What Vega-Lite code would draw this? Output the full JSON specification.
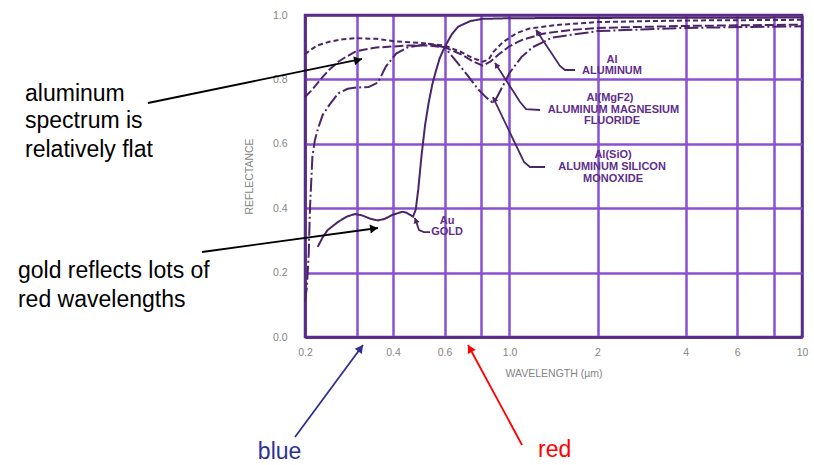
{
  "$schema": "https://vega.github.io/schema/vega-lite/v6.json",
  "width": 497,
  "height": 322,
  "autosize": {"type": "none"},
  "padding": {"left": 305, "top": 15, "right": 12, "bottom": 128},
  "background": "white",
  "config": {"view": {"stroke": "#5a2d8a", "strokeWidth": 2.5}, "font": "Liberation Sans"},
  "datasets": {
    "curves": [
      {"s": "Au", "wl": 0.221, "r": 0.28}, {"s": "Au", "wl": 0.23, "r": 0.31}, {"s": "Au", "wl": 0.239, "r": 0.332},
      {"s": "Au", "wl": 0.259, "r": 0.357}, {"s": "Au", "wl": 0.278, "r": 0.374}, {"s": "Au", "wl": 0.297, "r": 0.382},
      {"s": "Au", "wl": 0.315, "r": 0.377}, {"s": "Au", "wl": 0.335, "r": 0.367}, {"s": "Au", "wl": 0.355, "r": 0.362},
      {"s": "Au", "wl": 0.375, "r": 0.367}, {"s": "Au", "wl": 0.4, "r": 0.38}, {"s": "Au", "wl": 0.43, "r": 0.389},
      {"s": "Au", "wl": 0.445, "r": 0.386}, {"s": "Au", "wl": 0.458, "r": 0.379}, {"s": "Au", "wl": 0.468, "r": 0.374},
      {"s": "Au", "wl": 0.478, "r": 0.395}, {"s": "Au", "wl": 0.488, "r": 0.46}, {"s": "Au", "wl": 0.5, "r": 0.56},
      {"s": "Au", "wl": 0.515, "r": 0.66}, {"s": "Au", "wl": 0.53, "r": 0.73}, {"s": "Au", "wl": 0.545, "r": 0.785},
      {"s": "Au", "wl": 0.56, "r": 0.825}, {"s": "Au", "wl": 0.577, "r": 0.865}, {"s": "Au", "wl": 0.6, "r": 0.9},
      {"s": "Au", "wl": 0.635, "r": 0.94}, {"s": "Au", "wl": 0.668, "r": 0.964}, {"s": "Au", "wl": 0.734, "r": 0.981},
      {"s": "Au", "wl": 0.81, "r": 0.988}, {"s": "Au", "wl": 1.0, "r": 0.99}, {"s": "Au", "wl": 2, "r": 0.991},
      {"s": "Au", "wl": 10, "r": 0.992},
      {"s": "Al", "wl": 0.2, "r": 0.878}, {"s": "Al", "wl": 0.21, "r": 0.893}, {"s": "Al", "wl": 0.22, "r": 0.905},
      {"s": "Al", "wl": 0.242, "r": 0.917}, {"s": "Al", "wl": 0.27, "r": 0.925}, {"s": "Al", "wl": 0.3, "r": 0.928},
      {"s": "Al", "wl": 0.35, "r": 0.926}, {"s": "Al", "wl": 0.41, "r": 0.918}, {"s": "Al", "wl": 0.5, "r": 0.913},
      {"s": "Al", "wl": 0.6, "r": 0.905}, {"s": "Al", "wl": 0.683, "r": 0.885}, {"s": "Al", "wl": 0.75, "r": 0.866},
      {"s": "Al", "wl": 0.81, "r": 0.855}, {"s": "Al", "wl": 0.85, "r": 0.862}, {"s": "Al", "wl": 0.88, "r": 0.885},
      {"s": "Al", "wl": 0.95, "r": 0.916}, {"s": "Al", "wl": 1.06, "r": 0.944}, {"s": "Al", "wl": 1.17, "r": 0.958},
      {"s": "Al", "wl": 1.45, "r": 0.969}, {"s": "Al", "wl": 2, "r": 0.978}, {"s": "Al", "wl": 4, "r": 0.983},
      {"s": "Al", "wl": 10, "r": 0.985},
      {"s": "MgF2", "wl": 0.2, "r": 0.745}, {"s": "MgF2", "wl": 0.21, "r": 0.765}, {"s": "MgF2", "wl": 0.218, "r": 0.782},
      {"s": "MgF2", "wl": 0.23, "r": 0.808}, {"s": "MgF2", "wl": 0.242, "r": 0.83}, {"s": "MgF2", "wl": 0.26, "r": 0.855},
      {"s": "MgF2", "wl": 0.276, "r": 0.87}, {"s": "MgF2", "wl": 0.3, "r": 0.888}, {"s": "MgF2", "wl": 0.35, "r": 0.899},
      {"s": "MgF2", "wl": 0.45, "r": 0.905}, {"s": "MgF2", "wl": 0.53, "r": 0.905}, {"s": "MgF2", "wl": 0.6, "r": 0.9},
      {"s": "MgF2", "wl": 0.683, "r": 0.878}, {"s": "MgF2", "wl": 0.75, "r": 0.856}, {"s": "MgF2", "wl": 0.81, "r": 0.843},
      {"s": "MgF2", "wl": 0.86, "r": 0.855}, {"s": "MgF2", "wl": 0.92, "r": 0.878}, {"s": "MgF2", "wl": 1.0, "r": 0.903},
      {"s": "MgF2", "wl": 1.1, "r": 0.922}, {"s": "MgF2", "wl": 1.3, "r": 0.942}, {"s": "MgF2", "wl": 1.6, "r": 0.953},
      {"s": "MgF2", "wl": 2, "r": 0.96}, {"s": "MgF2", "wl": 4, "r": 0.966}, {"s": "MgF2", "wl": 10, "r": 0.97},
      {"s": "SiO", "wl": 0.2, "r": 0.11}, {"s": "SiO", "wl": 0.203, "r": 0.155}, {"s": "SiO", "wl": 0.206, "r": 0.26},
      {"s": "SiO", "wl": 0.208, "r": 0.4}, {"s": "SiO", "wl": 0.21, "r": 0.48}, {"s": "SiO", "wl": 0.212, "r": 0.56},
      {"s": "SiO", "wl": 0.216, "r": 0.61}, {"s": "SiO", "wl": 0.222, "r": 0.65}, {"s": "SiO", "wl": 0.23, "r": 0.69},
      {"s": "SiO", "wl": 0.242, "r": 0.72}, {"s": "SiO", "wl": 0.26, "r": 0.757}, {"s": "SiO", "wl": 0.28, "r": 0.771},
      {"s": "SiO", "wl": 0.3, "r": 0.775}, {"s": "SiO", "wl": 0.33, "r": 0.776}, {"s": "SiO", "wl": 0.355, "r": 0.79},
      {"s": "SiO", "wl": 0.378, "r": 0.84}, {"s": "SiO", "wl": 0.41, "r": 0.88}, {"s": "SiO", "wl": 0.45, "r": 0.9},
      {"s": "SiO", "wl": 0.53, "r": 0.91}, {"s": "SiO", "wl": 0.6, "r": 0.9}, {"s": "SiO", "wl": 0.65, "r": 0.862},
      {"s": "SiO", "wl": 0.72, "r": 0.812}, {"s": "SiO", "wl": 0.78, "r": 0.77}, {"s": "SiO", "wl": 0.83, "r": 0.745},
      {"s": "SiO", "wl": 0.87, "r": 0.73}, {"s": "SiO", "wl": 0.9, "r": 0.74}, {"s": "SiO", "wl": 0.95, "r": 0.78},
      {"s": "SiO", "wl": 1.0, "r": 0.82}, {"s": "SiO", "wl": 1.1, "r": 0.87}, {"s": "SiO", "wl": 1.2, "r": 0.9},
      {"s": "SiO", "wl": 1.4, "r": 0.93}, {"s": "SiO", "wl": 2, "r": 0.95}, {"s": "SiO", "wl": 4, "r": 0.96},
      {"s": "SiO", "wl": 10, "r": 0.965}
    ],
    "arrows": [
      {"id": "a1", "col": "black", "wl": 0.0581, "r": 0.7267}, {"id": "a1", "col": "black", "wl": 0.3133, "r": 0.8634},
      {"id": "a2", "col": "black", "wl": 0.0889, "r": 0.264}, {"id": "a2", "col": "black", "wl": 0.3552, "r": 0.3385},
      {"id": "blue", "col": "blue", "wl": 0.1849, "r": -0.3106}, {"id": "blue", "col": "blue", "wl": 0.3157, "r": -0.0248},
      {"id": "red", "col": "red", "wl": 1.104, "r": -0.3354}, {"id": "red", "col": "red", "wl": 0.7216, "r": -0.0248},
      {"id": "au", "col": "leader", "wl": 0.475, "r": 0.3696}, {"id": "au", "col": "leader", "wl": 0.4907, "r": 0.3323},
      {"id": "au", "col": "leader", "wl": 0.51, "r": 0.326}, {"id": "au", "col": "leader", "wl": 0.535, "r": 0.326},
      {"id": "al", "col": "leader", "wl": 1.233, "r": 0.9534}, {"id": "al", "col": "leader", "wl": 1.488, "r": 0.8416},
      {"id": "al", "col": "leader", "wl": 1.548, "r": 0.8292}, {"id": "al", "col": "leader", "wl": 1.675, "r": 0.8292},
      {"id": "mg", "col": "leader", "wl": 0.8926, "r": 0.851}, {"id": "mg", "col": "leader", "wl": 1.087, "r": 0.7298},
      {"id": "mg", "col": "leader", "wl": 1.139, "r": 0.708}, {"id": "mg", "col": "leader", "wl": 1.272, "r": 0.705},
      {"id": "si", "col": "leader", "wl": 0.878, "r": 0.745}, {"id": "si", "col": "leader", "wl": 1.121, "r": 0.5435},
      {"id": "si", "col": "leader", "wl": 1.175, "r": 0.528}, {"id": "si", "col": "leader", "wl": 1.323, "r": 0.528}
    ],
    "heads": [
      {"id": "a1", "col": "black", "wl": 0.3036, "r": 0.8602},
      {"id": "a2", "col": "black", "wl": 0.3442, "r": 0.337},
      {"id": "blue", "col": "blue", "wl": 0.3098, "r": -0.0348},
      {"id": "red", "col": "red", "wl": 0.7326, "r": -0.0357},
      {"id": "au", "col": "leader", "wl": 0.4784, "r": 0.3621},
      {"id": "al", "col": "leader", "wl": 1.246, "r": 0.9469},
      {"id": "mg", "col": "leader", "wl": 0.902, "r": 0.8444},
      {"id": "si", "col": "leader", "wl": 0.886, "r": 0.7382}
    ],
    "notes": [
      {"t": "aluminum", "col": "black", "wl": 0.02208, "r": 0.733},
      {"t": "spectrum is", "col": "black", "wl": 0.02208, "r": 0.649},
      {"t": "relatively flat", "col": "black", "wl": 0.02208, "r": 0.559},
      {"t": "gold reflects lots of", "col": "black", "wl": 0.02088, "r": 0.183},
      {"t": "red wavelengths", "col": "black", "wl": 0.02088, "r": 0.093},
      {"t": "blue", "col": "blue", "wl": 0.138, "r": -0.38},
      {"t": "red", "col": "red", "wl": 1.252, "r": -0.372}
    ],
    "labels": [
      {"t": "Au", "wl": 0.612, "r": 0.36},
      {"t": "GOLD", "wl": 0.612, "r": 0.326},
      {"t": "Al", "wl": 2.242, "r": 0.8602},
      {"t": "ALUMINUM", "wl": 2.242, "r": 0.826},
      {"t": "Al(MgF2)", "wl": 2.206, "r": 0.742},
      {"t": "ALUMINUM MAGNESIUM", "wl": 2.268, "r": 0.705},
      {"t": "FLUORIDE", "wl": 2.242, "r": 0.671},
      {"t": "Al(SiO)", "wl": 2.26, "r": 0.564},
      {"t": "ALUMINUM SILICON", "wl": 2.242, "r": 0.528},
      {"t": "MONOXIDE", "wl": 2.26, "r": 0.492}
    ]
  },
  "layer": [
    {
      "data": {"name": "curves"},
      "mark": {"type": "line", "strokeWidth": 2, "color": "#4b2568"},
      "encoding": {
        "x": {
          "field": "wl", "type": "quantitative", "title": "WAVELENGTH (µm)",
          "scale": {"type": "log", "domain": [0.2, 10], "nice": false},
          "axis": {
            "values": [0.2, 0.3, 0.4, 0.6, 0.8, 1, 2, 4, 6, 8, 10],
            "labelExpr": "indexof([0.3, 0.8, 8], datum.value) >= 0 ? '' : (datum.value < 1.5 ? format(datum.value, '.1f') : format(datum.value, 'd'))",
            "grid": true,
            "gridColor": {"condition": {"test": "datum.value == 10 || datum.value == 0.2", "value": "#5a2d8a"}, "value": "#8a50d0"},
            "gridWidth": 2.5,
            "domain": true, "domainColor": "#5a2d8a", "domainWidth": 2.5,
            "ticks": false,
            "labelPadding": 10, "labelFontSize": 10.5, "labelColor": "#858585", "labelFont": "Liberation Sans",
            "labelOverlap": false, "labelFlush": false,
            "titleFontSize": 10.5, "titleFontWeight": "normal", "titleColor": "#858585", "titleFont": "Liberation Sans",
            "titlePadding": 11
          }
        },
        "y": {
          "field": "r", "type": "quantitative", "title": "REFLECTANCE",
          "scale": {"domain": [0, 1], "nice": false},
          "axis": {
            "values": [0, 0.1, 0.2, 0.3, 0.4, 0.5, 0.6, 0.7, 0.8, 0.9, 1.0],
            "labelExpr": "round(datum.value * 10) % 2 == 0 ? format(datum.value, '.1f') : ''",
            "grid": true,
            "gridColor": {"condition": {"test": "datum.value == 1 || datum.value == 0", "value": "#5a2d8a"}, "value": "#8a50d0"},
            "gridWidth": 2.5,
            "domain": true, "domainColor": "#5a2d8a", "domainWidth": 2.5,
            "ticks": false,
            "labelPadding": 18, "labelFontSize": 10.5, "labelColor": "#858585", "labelFont": "Liberation Sans",
            "labelOverlap": false, "labelFlush": false,
            "titleFontSize": 10.5, "titleFontWeight": "normal", "titleColor": "#858585", "titleFont": "Liberation Sans",
            "titlePadding": 18
          }
        },
        "strokeDash": {
          "field": "s", "type": "nominal", "legend": null,
          "scale": {"domain": ["Au", "Al", "MgF2", "SiO"], "range": [[1, 0], [5, 3], [9, 3], [14, 3, 2, 3]]}
        }
      }
    },
    {
      "data": {"name": "arrows"},
      "mark": {"type": "line", "strokeWidth": 1.8},
      "encoding": {
        "x": {"field": "wl", "type": "quantitative"},
        "y": {"field": "r", "type": "quantitative"},
        "detail": {"field": "id"},
        "color": {"field": "col", "type": "nominal", "legend": null,
          "scale": {"domain": ["black", "blue", "red", "leader"], "range": ["#000000", "#2e3192", "#ff0000", "#4b2568"]}}
      }
    },
    {"data": {"name": "heads"}, "transform": [{"filter": "datum.id == 'a1'"}],
      "mark": {"type": "point", "shape": "triangle-up", "filled": true, "opacity": 1, "size": 80, "angle": 78.4},
      "encoding": {"x": {"field": "wl", "type": "quantitative"}, "y": {"field": "r", "type": "quantitative"},
        "color": {"field": "col", "type": "nominal", "legend": null, "scale": {"domain": ["black", "blue", "red", "leader"], "range": ["#000000", "#2e3192", "#ff0000", "#4b2568"]}}}},
    {"data": {"name": "heads"}, "transform": [{"filter": "datum.id == 'a2'"}],
      "mark": {"type": "point", "shape": "triangle-up", "filled": true, "opacity": 1, "size": 80, "angle": 82.2},
      "encoding": {"x": {"field": "wl", "type": "quantitative"}, "y": {"field": "r", "type": "quantitative"},
        "color": {"field": "col", "type": "nominal", "legend": null, "scale": {"domain": ["black", "blue", "red", "leader"], "range": ["#000000", "#2e3192", "#ff0000", "#4b2568"]}}}},
    {"data": {"name": "heads"}, "transform": [{"filter": "datum.id == 'blue'"}],
      "mark": {"type": "point", "shape": "triangle-up", "filled": true, "opacity": 1, "size": 80, "angle": 36.5},
      "encoding": {"x": {"field": "wl", "type": "quantitative"}, "y": {"field": "r", "type": "quantitative"},
        "color": {"field": "col", "type": "nominal", "legend": null, "scale": {"domain": ["black", "blue", "red", "leader"], "range": ["#000000", "#2e3192", "#ff0000", "#4b2568"]}}}},
    {"data": {"name": "heads"}, "transform": [{"filter": "datum.id == 'red'"}],
      "mark": {"type": "point", "shape": "triangle-up", "filled": true, "opacity": 1, "size": 80, "angle": 331.6},
      "encoding": {"x": {"field": "wl", "type": "quantitative"}, "y": {"field": "r", "type": "quantitative"},
        "color": {"field": "col", "type": "nominal", "legend": null, "scale": {"domain": ["black", "blue", "red", "leader"], "range": ["#000000", "#2e3192", "#ff0000", "#4b2568"]}}}},
    {"data": {"name": "heads"}, "transform": [{"filter": "datum.id == 'au'"}],
      "mark": {"type": "point", "shape": "triangle-up", "filled": true, "opacity": 1, "size": 40, "angle": 342},
      "encoding": {"x": {"field": "wl", "type": "quantitative"}, "y": {"field": "r", "type": "quantitative"},
        "color": {"field": "col", "type": "nominal", "legend": null, "scale": {"domain": ["black", "blue", "red", "leader"], "range": ["#000000", "#2e3192", "#ff0000", "#4b2568"]}}}},
    {"data": {"name": "heads"}, "transform": [{"filter": "datum.id == 'al'"}],
      "mark": {"type": "point", "shape": "triangle-up", "filled": true, "opacity": 1, "size": 40, "angle": 326.3},
      "encoding": {"x": {"field": "wl", "type": "quantitative"}, "y": {"field": "r", "type": "quantitative"},
        "color": {"field": "col", "type": "nominal", "legend": null, "scale": {"domain": ["black", "blue", "red", "leader"], "range": ["#000000", "#2e3192", "#ff0000", "#4b2568"]}}}},
    {"data": {"name": "heads"}, "transform": [{"filter": "datum.id == 'mg'"}],
      "mark": {"type": "point", "shape": "triangle-up", "filled": true, "opacity": 1, "size": 40, "angle": 327.3},
      "encoding": {"x": {"field": "wl", "type": "quantitative"}, "y": {"field": "r", "type": "quantitative"},
        "color": {"field": "col", "type": "nominal", "legend": null, "scale": {"domain": ["black", "blue", "red", "leader"], "range": ["#000000", "#2e3192", "#ff0000", "#4b2568"]}}}},
    {"data": {"name": "heads"}, "transform": [{"filter": "datum.id == 'si'"}],
      "mark": {"type": "point", "shape": "triangle-up", "filled": true, "opacity": 1, "size": 40, "angle": 334.5},
      "encoding": {"x": {"field": "wl", "type": "quantitative"}, "y": {"field": "r", "type": "quantitative"},
        "color": {"field": "col", "type": "nominal", "legend": null, "scale": {"domain": ["black", "blue", "red", "leader"], "range": ["#000000", "#2e3192", "#ff0000", "#4b2568"]}}}},
    {
      "data": {"name": "notes"},
      "mark": {"type": "text", "align": "left", "baseline": "alphabetic", "fontSize": 23, "font": "Liberation Sans"},
      "encoding": {
        "x": {"field": "wl", "type": "quantitative"},
        "y": {"field": "r", "type": "quantitative"},
        "text": {"field": "t"},
        "color": {"field": "col", "type": "nominal", "legend": null,
          "scale": {"domain": ["black", "blue", "red", "leader"], "range": ["#000000", "#2e3192", "#ff0000", "#4b2568"]}}
      }
    },
    {
      "data": {"name": "labels"},
      "mark": {"type": "text", "align": "center", "baseline": "middle", "fontSize": 11, "fontWeight": "bold", "font": "Liberation Sans", "color": "#5e2f8a"},
      "encoding": {
        "x": {"field": "wl", "type": "quantitative"},
        "y": {"field": "r", "type": "quantitative"},
        "text": {"field": "t"}
      }
    }
  ]
}
